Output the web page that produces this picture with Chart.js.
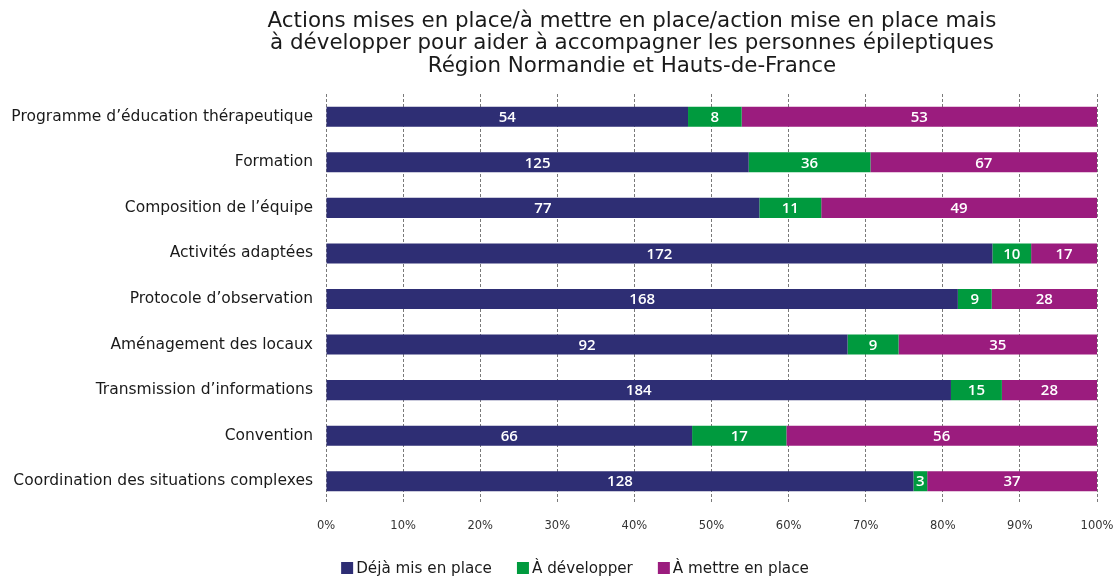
<!DOCTYPE html>
<html lang="fr">
<head>
<meta charset="utf-8">
<script src="https://cdn.jsdelivr.net/npm/chart.js@4/dist/chart.umd.min.js"></script>
<style>
  html, body { margin: 0; padding: 0; background: #ffffff; }
  #wrap { width: 1113px; height: 576px; position: relative; }
</style>
</head>
<body>
<div id="wrap"><canvas id="chart" width="1113" height="576"></canvas></div>
<script>
// Actions, one bar per action
const categories = [
  "Programme d\u2019éducation thérapeutique",
  "Formation",
  "Composition de l\u2019équipe",
  "Activités adaptées",
  "Protocole d\u2019observation",
  "Aménagement des locaux",
  "Transmission d\u2019informations",
  "Convention",
  "Coordination des situations complexes"
];

// Number of answers per status
const dejaMisEnPlace = [54, 125, 77, 172, 168, 92, 184, 66, 128];
const aDevelopper    = [8, 36, 11, 10, 9, 9, 15, 17, 3];
const aMettreEnPlace = [53, 67, 49, 17, 28, 35, 28, 56, 37];

const seriesNames = ["Déjà mis en place", "À développer", "À mettre en place"];
const seriesColors = ["#2e2e74", "#009a3e", "#9b1c7e"];

const titleLines = [
  "Actions mises en place/à mettre en place/action mise en place mais",
  "à développer pour aider à accompagner les personnes épileptiques",
  "Région Normandie et Hauts-de-France"
];

const FONT = "'DejaVu Sans', 'Open Sans', sans-serif";
const NUM_FONT = "'Open Sans', 'DejaVu Sans', sans-serif";

// Share of each status within a row, in percent
const totals = categories.map((_, i) => dejaMisEnPlace[i] + aDevelopper[i] + aMettreEnPlace[i]);
const toPercent = arr => arr.map((v, i) => v / totals[i] * 100);
const counts = [dejaMisEnPlace, aDevelopper, aMettreEnPlace];

const datasets = counts.map((arr, k) => ({
  label: seriesNames[k],
  data: toPercent(arr),
  counts: arr,
  backgroundColor: seriesColors[k],
  borderWidth: 0,
  barPercentage: 0.88,
  categoryPercentage: 0.5
}));

// Writes the count inside each segment
const segmentLabels = {
  id: 'segmentLabels',
  afterDatasetsDraw(chart) {
    const ctx = chart.ctx;
    ctx.save();
    ctx.fillStyle = '#ffffff';
    ctx.font = `600 15px ${NUM_FONT}`;
    ctx.textAlign = 'center';
    ctx.textBaseline = 'middle';
    chart.data.datasets.forEach((ds, k) => {
      const meta = chart.getDatasetMeta(k);
      meta.data.forEach((bar, i) => {
        const v = ds.counts[i];
        if (!v) return;
        ctx.fillText(String(v), (bar.x + bar.base) / 2, bar.y + 1);
      });
    });
    ctx.restore();
  }
};

// Three-line heading
const heading = {
  id: 'heading',
  afterDraw(chart) {
    const ctx = chart.ctx;
    ctx.save();
    ctx.fillStyle = '#1a1a1a';
    ctx.font = `21.4px ${FONT}`;
    ctx.textAlign = 'center';
    ctx.textBaseline = 'middle';
    titleLines.forEach((t, i) => ctx.fillText(t, 632, 21 + i * 22.5));
    ctx.restore();
  }
};

// Legend row under the axis
const legendRow = {
  id: 'legendRow',
  afterDraw(chart) {
    const ctx = chart.ctx;
    ctx.save();
    ctx.font = `15.2px ${FONT}`;
    ctx.textBaseline = 'middle';
    ctx.textAlign = 'left';
    const box = 12, gap = 3, spacing = 25;
    const widths = seriesNames.map(n => box + gap + ctx.measureText(n).width);
    const total = widths.reduce((a, b) => a + b, 0) + spacing * (widths.length - 1);
    let x = 575 - total / 2;
    const y = 568;
    seriesNames.forEach((n, k) => {
      ctx.fillStyle = seriesColors[k];
      ctx.fillRect(x, y - box / 2, box, box);
      ctx.fillStyle = '#1a1a1a';
      ctx.fillText(n, x + box + gap, y + 1);
      x += widths[k] + spacing;
    });
    ctx.restore();
  }
};

new Chart(document.getElementById('chart'), {
  type: 'bar',
  data: { labels: categories, datasets },
  plugins: [segmentLabels, heading, legendRow],
  options: {
    indexAxis: 'y',
    responsive: false,
    animation: false,
    layout: { padding: { top: 94, right: 16, bottom: 40, left: 0 } },
    plugins: {
      legend: { display: false },
      title: { display: false },
      tooltip: { enabled: false }
    },
    scales: {
      x: {
        stacked: true,
        min: 0,
        max: 100,
        afterFit(s) { s.height = 32; s.paddingLeft = 0; s.paddingRight = 0; },
        border: { display: false, dash: [3, 2] },
        grid: {
          color: '#7a7a7a',
          lineWidth: 1,
          drawTicks: false
        },
        ticks: {
          stepSize: 10,
          padding: 15,
          color: '#333333',
          font: { family: FONT, size: 11.5 },
          callback: v => v + '%'
        }
      },
      y: {
        stacked: true,
        afterFit(s) { s.width = 326; },
        border: { display: false },
        grid: { display: false, drawTicks: false },
        ticks: {
          padding: 13,
          color: '#1a1a1a',
          font: { family: FONT, size: 15.5 }
        }
      }
    }
  }
});
</script>
</body>
</html>
